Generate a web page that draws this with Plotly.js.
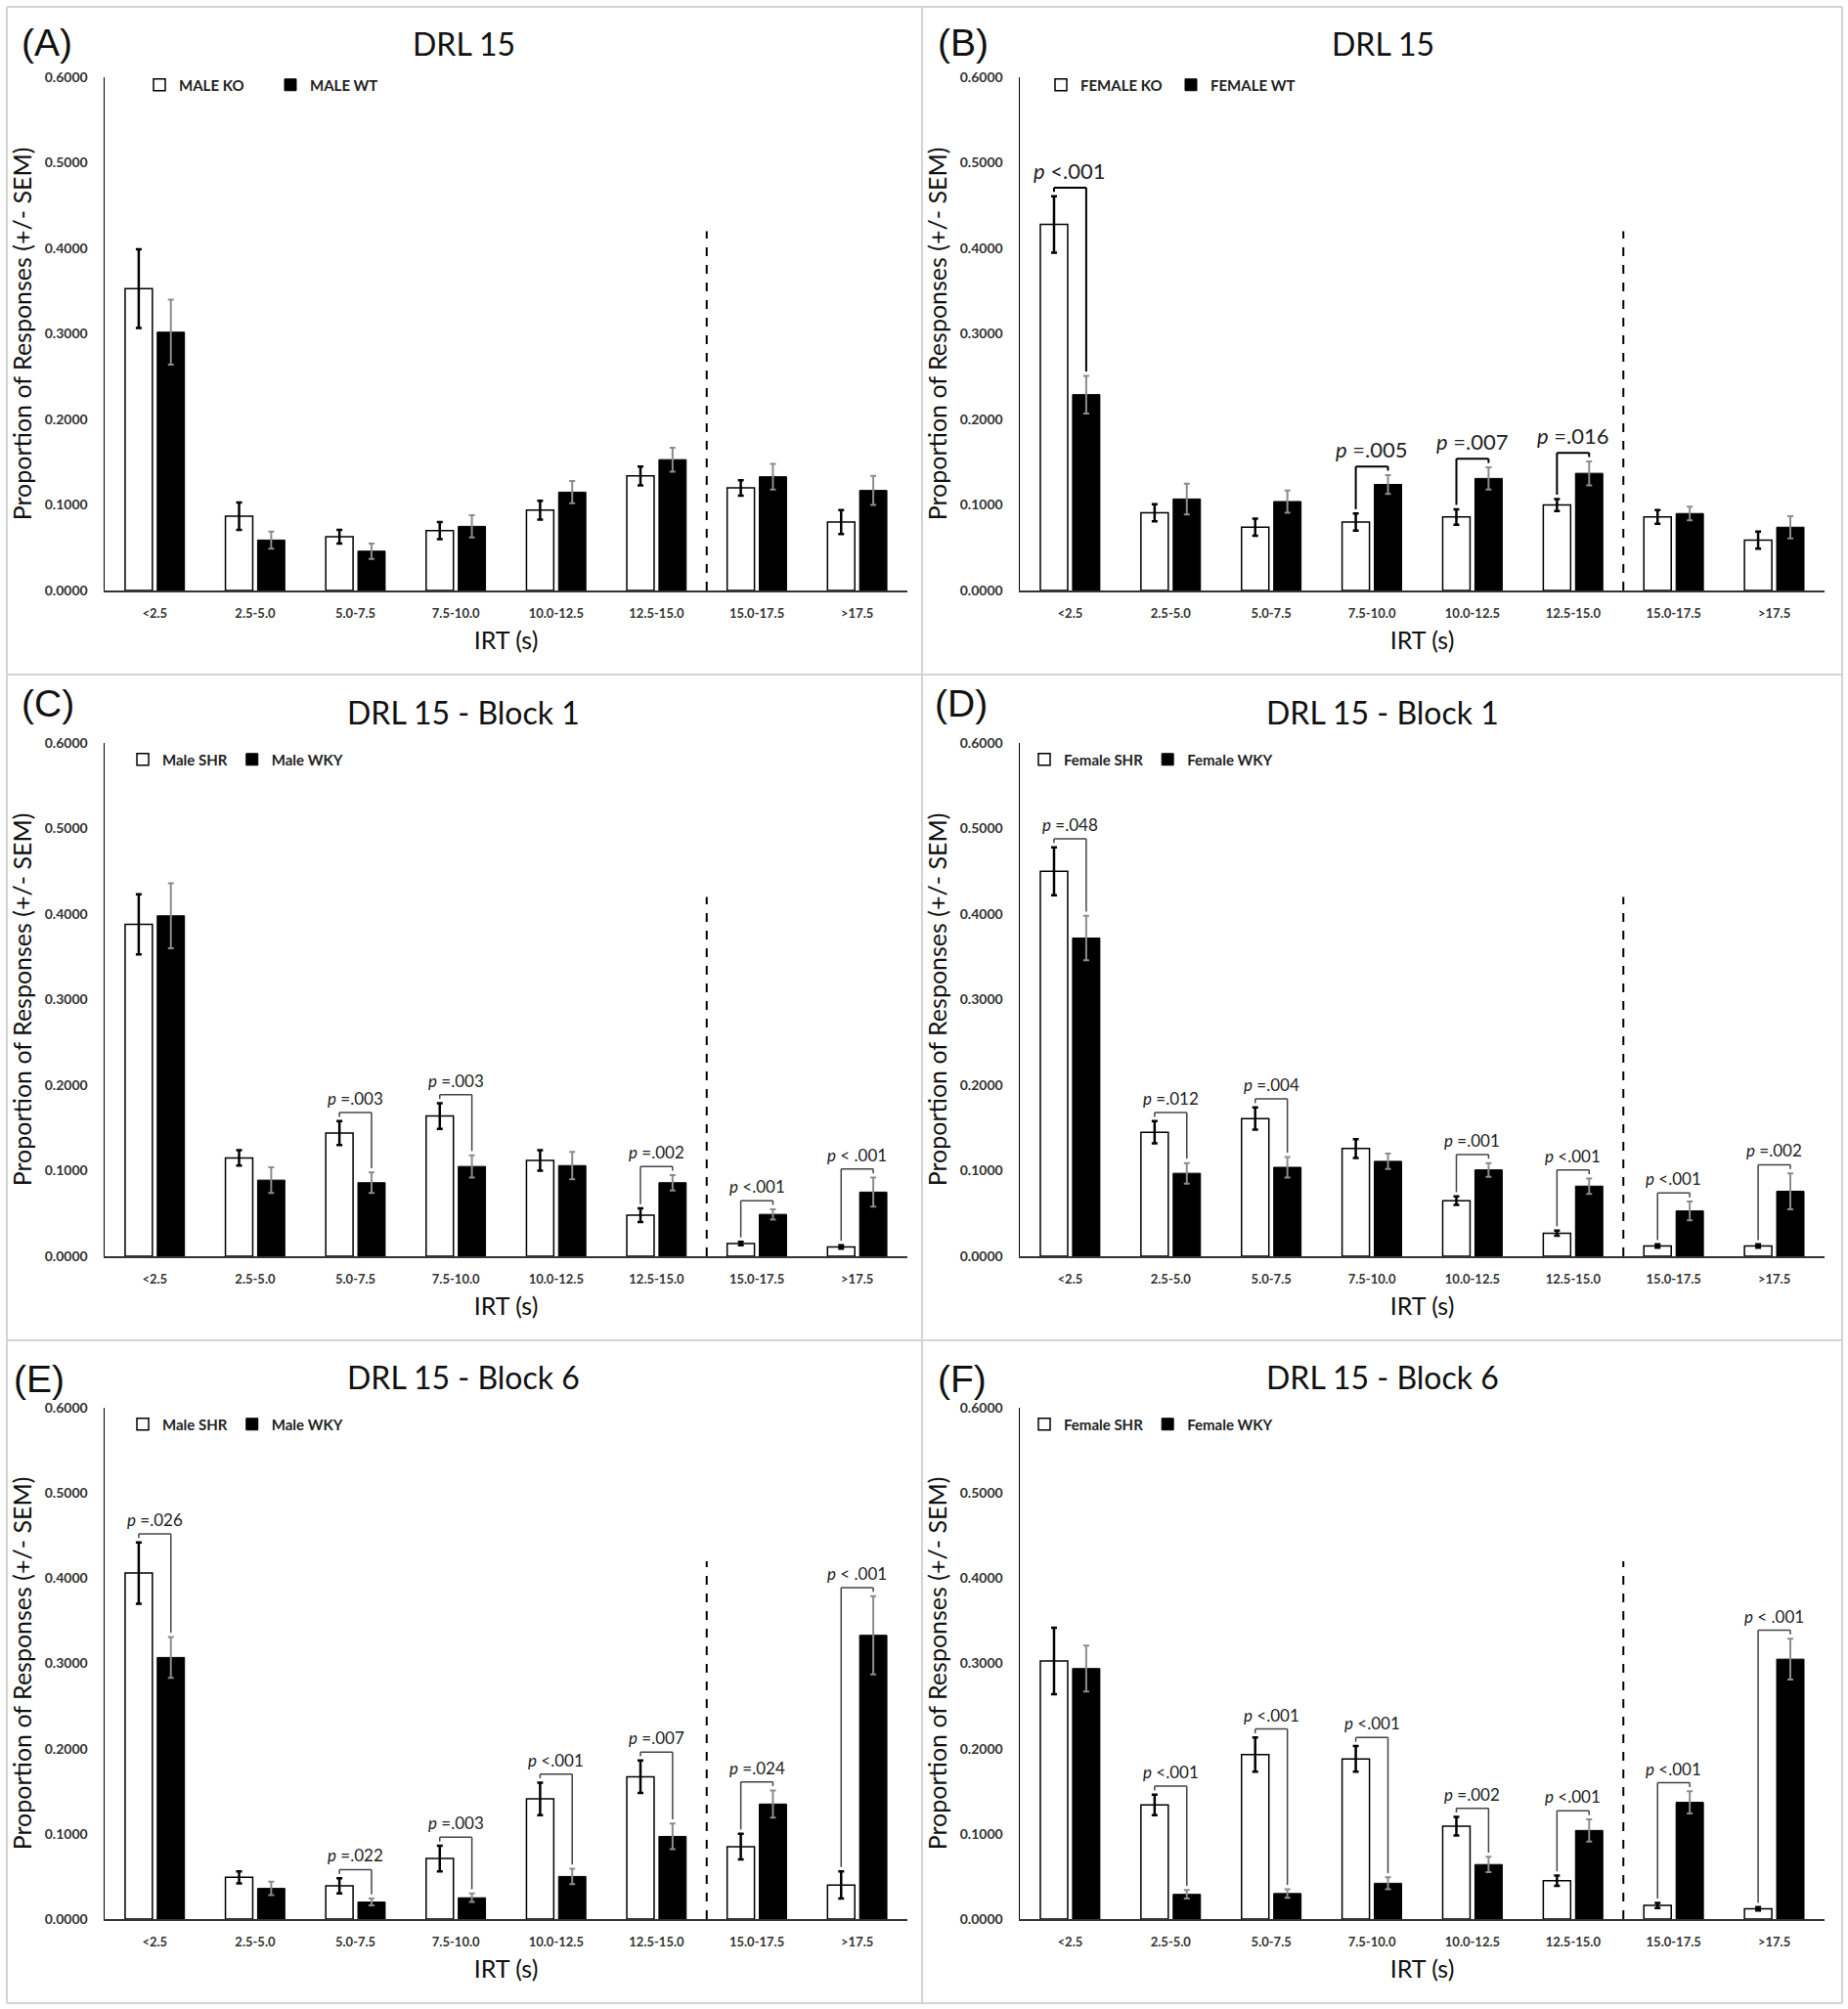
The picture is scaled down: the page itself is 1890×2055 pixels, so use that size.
<!DOCTYPE html>
<html>
<head>
<meta charset="utf-8">
<script src="https://cdn.plot.ly/plotly-3.0.1.min.js"></script>
<style>body{margin:0;background:#fff}</style>
</head>
<body>
<div id="chart" style="width:1890px;height:2055px"></div>
<script>
// IRT bins (s)
const irtBins = ['<2.5','2.5-5.0','5.0-7.5','7.5-10.0','10.0-12.5','12.5-15.0','15.0-17.5','>17.5'];

// (A) DRL 15, males
const maleKO    = [0.353,0.087,0.063,0.070,0.094,0.134,0.120,0.080];
const maleKOSem = [0.046,0.016,0.008,0.010,0.011,0.011,0.009,0.014];
const maleWT    = [0.302,0.059,0.046,0.075,0.115,0.153,0.133,0.117];
const maleWTSem = [0.038,0.010,0.009,0.013,0.013,0.014,0.015,0.017];
const pA = [null,null,null,null,null,null,null,null];

// (B) DRL 15, females
const femaleKO    = [0.428,0.091,0.074,0.080,0.086,0.100,0.086,0.059];
const femaleKOSem = [0.033,0.010,0.010,0.010,0.009,0.007,0.008,0.010];
const femaleWT    = [0.229,0.107,0.104,0.124,0.131,0.137,0.090,0.074];
const femaleWTSem = [0.022,0.018,0.013,0.011,0.013,0.014,0.008,0.013];
const pB = ['<.001',null,null,'=.005','=.007','=.016',null,null];

// (C) DRL 15 block 1, males
const maleSHR1    = [0.388,0.115,0.144,0.164,0.112,0.048,0.015,0.011];
const maleSHR1Sem = [0.035,0.009,0.014,0.015,0.012,0.008,0.002,0.002];
const maleWKY1    = [0.398,0.089,0.086,0.105,0.106,0.086,0.049,0.075];
const maleWKY1Sem = [0.038,0.015,0.012,0.013,0.016,0.009,0.006,0.017];
const pC = [null,null,'=.003','=.003',null,'=.002','<.001','< .001'];

// (D) DRL 15 block 1, females
const femaleSHR1    = [0.450,0.145,0.161,0.126,0.065,0.027,0.012,0.012];
const femaleSHR1Sem = [0.028,0.013,0.013,0.011,0.005,0.003,0.002,0.002];
const femaleWKY1    = [0.372,0.097,0.104,0.111,0.101,0.082,0.053,0.076];
const femaleWKY1Sem = [0.026,0.012,0.012,0.009,0.008,0.009,0.011,0.021];
const pD = ['=.048','=.012','=.004',null,'=.001','<.001','<.001','=.002'];

// (E) DRL 15 block 6, males
const maleSHR6    = [0.406,0.049,0.039,0.071,0.141,0.167,0.085,0.040];
const maleSHR6Sem = [0.036,0.007,0.009,0.015,0.019,0.019,0.015,0.016];
const maleWKY6    = [0.307,0.036,0.020,0.025,0.050,0.097,0.135,0.333];
const maleWKY6Sem = [0.024,0.008,0.004,0.005,0.009,0.015,0.016,0.046];
const pE = ['=.026',null,'=.022','=.003','<.001','=.007','=.024','< .001'];

// (F) DRL 15 block 6, females
const femaleSHR6    = [0.303,0.134,0.193,0.188,0.109,0.045,0.016,0.012];
const femaleSHR6Sem = [0.039,0.012,0.020,0.015,0.011,0.006,0.003,0.002];
const femaleWKY6    = [0.294,0.029,0.030,0.042,0.064,0.104,0.137,0.305];
const femaleWKY6Sem = [0.027,0.005,0.005,0.007,0.009,0.013,0.013,0.024];
const pF = [null,'<.001','<.001','<.001','=.002','<.001','<.001','< .001'];

const panels = [
  {lab:'(A)', title:'DRL 15', names:['MALE KO','MALE WT'], w:maleKO, ws:maleKOSem, b:maleWT, bs:maleWTSem, p:pA},
  {lab:'(B)', title:'DRL 15', names:['FEMALE KO','FEMALE WT'], w:femaleKO, ws:femaleKOSem, b:femaleWT, bs:femaleWTSem, p:pB},
  {lab:'(C)', title:'DRL 15 - Block 1', names:['Male SHR','Male WKY'], w:maleSHR1, ws:maleSHR1Sem, b:maleWKY1, bs:maleWKY1Sem, p:pC},
  {lab:'(D)', title:'DRL 15 - Block 1', names:['Female SHR','Female WKY'], w:femaleSHR1, ws:femaleSHR1Sem, b:femaleWKY1, bs:femaleWKY1Sem, p:pD},
  {lab:'(E)', title:'DRL 15 - Block 6', names:['Male SHR','Male WKY'], w:maleSHR6, ws:maleSHR6Sem, b:maleWKY6, bs:maleWKY6Sem, p:pE},
  {lab:'(F)', title:'DRL 15 - Block 6', names:['Female SHR','Female WKY'], w:femaleSHR6, ws:femaleSHR6Sem, b:femaleWKY6, bs:femaleWKY6Sem, p:pF}
];

// page geometry (px)
const W = 1890, H = 2055;
const colPx = [[107,928],[1043,1866]];
const rowPx = [[604,79],[1285,760],[1963,1440]];
const titleY = [45,728,1408];
const labY = [44,719,1410];
const labX = [[20,957],[20,954],[12,957]];
const panelCx = [474,1414];
const legX = [163,1085,146,1068,146,1068];
const legY = [87,777,1457];
const legEntry = [89,88,null,null,null,null];
const bargap = 0.36;
const off = (1 - bargap) / 4;

const layout = {
  width: W, height: H,
  margin: {l:0, r:0, t:0, b:0},
  paper_bgcolor: '#fff', plot_bgcolor: 'rgba(0,0,0,0)',
  font: {family: 'Lato, sans-serif', color: '#111'},
  barmode: 'group', bargap: bargap, bargroupgap: 0.15,
  shapes: [], annotations: []
};
const data = [];

const px = v => v / W;
const py = v => 1 - v / H;

panels.forEach((pn, k) => {
  const c = k % 2, r = Math.floor(k / 2);
  const sfx = k ? String(k + 1) : '';
  const xa = 'x' + sfx, ya = 'y' + sfx;
  const big = k === 1;

  layout['xaxis' + sfx] = {
    domain: [px(colPx[c][0]), px(colPx[c][1])], anchor: ya,
    type: 'category', range: [-0.5, 7.5], categoryorder: 'array', categoryarray: irtBins,
    showline: true, linecolor: '#333', linewidth: 1.5, ticks: '', showgrid: false, zeroline: false,
    tickfont: {size: 13, color: '#333', weight: 'bold'}, ticklabelstandoff: 11, fixedrange: true,
    title: {text: 'IRT (s)', font: {size: 25, color: '#111'}, standoff: 12}
  };
  layout['yaxis' + sfx] = {
    domain: [py(rowPx[r][0]), py(rowPx[r][1])], anchor: xa,
    range: [0, 0.6], dtick: 0.1, tickformat: '.4f',
    showline: true, linecolor: '#000', linewidth: 1.5, ticks: '', showgrid: false, zeroline: false,
    tickfont: {size: 14, color: '#333', weight: 'bold'}, ticklabelstandoff: 13, fixedrange: true,
    title: {text: 'Proportion of Responses (+/- SEM)', font: {size: 25, color: '#111'}, standoff: 6}
  };
  const leg = {
    orientation: 'h', x: px(legX[k] - 20), xanchor: 'left', y: py(legY[r]), yanchor: 'middle',
    bgcolor: 'rgba(0,0,0,0)', font: {size: 15, color: '#222', weight: 'bold'}, itemwidth: 30
  };
  if (legEntry[k]) leg.entrywidth = legEntry[k];
  layout['legend' + sfx] = leg;

  data.push({
    type: 'bar', x: irtBins, y: pn.w, name: pn.names[0], xaxis: xa, yaxis: ya, legend: 'legend' + sfx,
    marker: {color: '#fff', line: {color: '#000', width: 1.5}},
    error_y: {type: 'data', array: pn.ws, visible: true, color: '#000', thickness: 2.5, width: 3}
  });
  data.push({
    type: 'bar', x: irtBins, y: pn.b, name: pn.names[1], xaxis: xa, yaxis: ya, legend: 'legend' + sfx,
    marker: {color: '#000', line: {color: '#000', width: 1}},
    error_y: {type: 'data', array: pn.bs, visible: true, color: '#8c8c8c', thickness: 2, width: 3}
  });

  // dashed criterion line between 12.5-15.0 and 15.0-17.5
  layout.shapes.push({type: 'line', xref: xa, yref: ya, x0: 5.5, x1: 5.5, y0: 0, y1: 0.42,
    line: {color: '#000', width: 2, dash: 'dash'}});

  // significance brackets
  pn.p.forEach((s, i) => {
    if (!s) return;
    const tw = pn.w[i] + pn.ws[i], tb = pn.b[i] + pn.bs[i];
    const lvl = Math.max(tw, tb) + 0.01;
    const lc = big ? '#000' : '#444', lw = big ? 2 : 1.5;
    const seg = (x0, y0, x1, y1) => layout.shapes.push({type: 'line', xref: xa, yref: ya,
      x0: x0, y0: y0, x1: x1, y1: y1, line: {color: lc, width: lw}});
    seg(i - off, tw + 0.005, i - off, lvl);
    seg(i - off, lvl, i + off, lvl);
    seg(i + off, tb + 0.005, i + off, lvl);
    layout.annotations.push({xref: xa, yref: ya, x: i, y: lvl, yanchor: 'bottom', yshift: 2,
      showarrow: false, text: '<i>p</i> ' + s.replace('<', '&lt;'),
      font: {size: big ? 22 : 17, color: '#222'}});
  });

  layout.annotations.push({xref: 'paper', yref: 'paper', x: px(panelCx[c]), y: py(titleY[r]),
    xanchor: 'center', yanchor: 'middle', showarrow: false, text: pn.title, font: {size: 32, color: '#111'}});
  layout.annotations.push({xref: 'paper', yref: 'paper', x: px(labX[r][c]), y: py(labY[r]),
    xanchor: 'left', yanchor: 'middle', showarrow: false, text: pn.lab,
    font: {family: 'Liberation Sans, Arial, sans-serif', size: 39, color: '#111'}});
});

// light panel frame
[7, 943, 1884].forEach(x => layout.shapes.push({type: 'line', xref: 'paper', yref: 'paper',
  x0: px(x), x1: px(x), y0: py(7), y1: py(2049), line: {color: '#d4d4d4', width: 2}}));
[7, 690, 1371, 2049].forEach(y => layout.shapes.push({type: 'line', xref: 'paper', yref: 'paper',
  x0: px(7), x1: px(1884), y0: py(y), y1: py(y), line: {color: '#d4d4d4', width: 2}}));

Plotly.newPlot('chart', data, layout, {displayModeBar: false, staticPlot: true});
</script>
</body>
</html>
